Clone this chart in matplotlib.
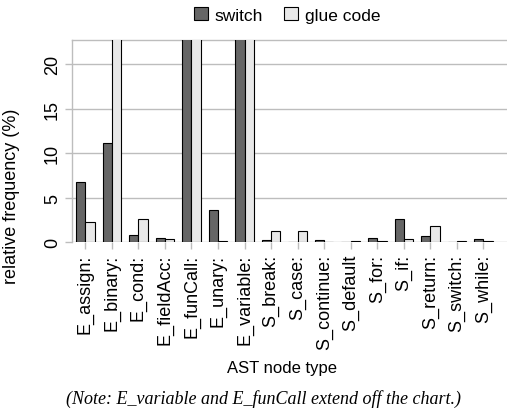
import numpy as np
import matplotlib
matplotlib.use('Agg')
import matplotlib.pyplot as plt

plt.rcParams['font.family'] = ['Liberation Sans', 'DejaVu Sans']

node_types = ['E_assign:', 'E_binary:', 'E_cond:', 'E_fieldAcc:', 'E_funCall:',
              'E_unary:', 'E_variable:', 'S_break:', 'S_case:', 'S_continue:',
              'S_default', 'S_for:', 'S_if:', 'S_return:', 'S_switch:', 'S_while:']
# relative frequency (%); bars that extend off the chart are given 25
switch_pct = [6.7, 11.1, 0.8, 0.45, 25.0, 3.55, 25.0, 0.26, 0.0, 0.22,
              0.0, 0.5, 2.6, 0.7, 0.0, 0.35]
glue_pct = [2.3, 25.0, 2.6, 0.3, 25.0, 0.07, 25.0, 1.27, 1.25, 0.0,
            0.06, 0.07, 0.3, 1.85, 0.06, 0.07]
yticks = [0, 5, 10, 15, 20]

grid_col = '#bdbdbd'

fig = plt.figure(figsize=(5.07, 4.10), dpi=100)
ax = fig.add_axes([72/507, 1-243/410, (510-72)/507, (243-41)/410])

x = np.arange(len(node_types))
w = 0.35
ax.bar(x - w/2, switch_pct, w, color='#666666', edgecolor='black',
       linewidth=0.8, label='switch', zorder=3)
ax.bar(x + w/2, glue_pct, w, color='#e8e8e8', edgecolor='black',
       linewidth=0.8, label='glue code', zorder=3)

ax.set_xlim(-0.5, len(node_types))
ax.set_ylim(0, 22.7)
ax.set_yticks(yticks)
ax.set_yticklabels([str(t) for t in yticks], rotation=90, va='center', fontsize=13)
ax.set_xticks(x)
ax.set_xticklabels(node_types, rotation=90, fontsize=13)
ax.tick_params(axis='both', color=grid_col, length=5, width=1)
ax.tick_params(axis='y', pad=3)
ax.yaxis.grid(True, color=grid_col, linewidth=1, zorder=0)
ax.set_axisbelow(True)
for s in ['right', 'bottom']:
    ax.spines[s].set_visible(False)
for s in ['left', 'top']:
    ax.spines[s].set_color(grid_col)
    ax.spines[s].set_linewidth(1)

ax.set_xlabel('AST node type', fontsize=12)
ax.xaxis.set_label_coords((282-72)/(510-72), (243-361)/(243-41), transform=ax.transAxes)
ax.set_ylabel('relative frequency (%)', fontsize=13)
ax.yaxis.set_label_coords(-(72-20)/(510-72), (243-196)/(243-41))

fig.legend(loc='center', bbox_to_anchor=(287/507, 1-16/410), ncol=2,
           frameon=False, fontsize=12.5, handlelength=0.8, handleheight=0.8,
           handletextpad=0.4, columnspacing=1.2, borderaxespad=0)

fig.text(264/507, 1-399/410,
         '(Note: E_variable and E_funCall extend off the chart.)',
         family=['Liberation Serif', 'DejaVu Serif'], style='italic',
         fontsize=13, ha='center', va='center')

fig.savefig('out.png', dpi=100)
